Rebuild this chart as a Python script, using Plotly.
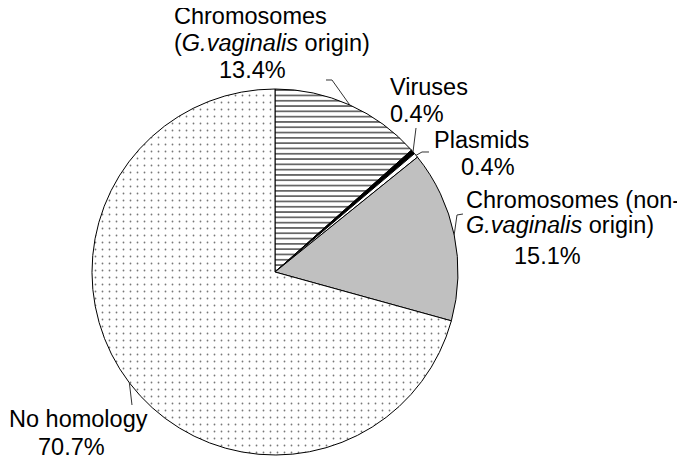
import math
import plotly.graph_objects as go

# ---- data ----
categories = ["Chromosomes (G.vaginalis origin)", "Viruses", "Plasmids",
              "Chromosomes (non-G.vaginalis origin)", "No homology"]
values = [13.4, 0.4, 0.4, 15.1, 70.7]
label_lines = [
    ["Chromosomes", "(<i>G.vaginalis</i> origin)", "13.4%"],
    ["Viruses", "0.4%"],
    ["Plasmids", "0.4%"],
    ["Chromosomes (non-", "<i>G.vaginalis</i> origin)", "15.1%"],
    ["No homology", "70.7%"],
]

# the page body adds an 8px offset; the figure is sized to fill the rest
OFF = 8
W, H = 685 - OFF, 461 - OFF
# pie geometry in screen pixels
DOM_X = (92, 458)
DOM_Y = (89, 455)  # top, bottom (pixels from top)
cx = (DOM_X[0] + DOM_X[1]) / 2
cy = (DOM_Y[0] + DOM_Y[1]) / 2
R = (DOM_X[1] - DOM_X[0]) / 2

def px(x):
    return (x - OFF) / W

def py(y):
    return (H - (y - OFF)) / H

fig = go.Figure(go.Pie(
    labels=categories,
    values=values,
    sort=False,
    direction="clockwise",
    rotation=0,
    textinfo="none",
    hoverinfo="label+percent",
    showlegend=False,
    domain=dict(x=[px(DOM_X[0]), px(DOM_X[1])], y=[py(DOM_Y[1]), py(DOM_Y[0])]),
    marker=dict(
        colors=["white", "black", "white", "#c0c0c0", "white"],
        line=dict(color="black", width=1),
        pattern=dict(
            shape=["-", "", "", "", "."],
            fgcolor=["black", "black", "black", "black", "#777777"],
            bgcolor=["white", "black", "white", "#c0c0c0", "white"],
            size=[5.3, 8, 8, 8, 7],
            solidity=[0.2, 0.3, 0.3, 0.3, 0.05],
            fillmode="replace",
        ),
    ),
))

# label text positions (left x, line centre y) in screen pixels
label_pos = [
    [(173, 16.5), (173, 43.5), (218, 69.5)],
    [(389, 86.5), (389, 114)],
    [(433, 140), (460, 167)],
    [(465, 200), (465, 225), (513, 256)],
    [(8, 418.5), (37, 446.5)],
]
# leader line end points (pixels), after the slice edge point
leader_ends = [
    [(332, 80), (326, 80)],
    [(416, 128)],
    [(422, 152), (429, 152)],
    [(457, 215), (463, 214)],
    [(132, 405)],
]

annotations = []
shapes = []
cum = 0.0
total = sum(values)
for i, v in enumerate(values):
    mid = (cum + v / 2) / total * 2 * math.pi
    cum += v
    ex = cx + R * math.sin(mid)
    ey = cy - R * math.cos(mid)
    pts = [(ex, ey)] + leader_ends[i]
    path = "M " + " L ".join(f"{px(x):.5f} {py(y):.5f}" for x, y in pts)
    shapes.append(dict(type="path", path=path, xref="paper", yref="paper",
                       line=dict(color="#333333", width=1)))
    for txt, (lx, ly) in zip(label_lines[i], label_pos[i]):
        annotations.append(dict(
            text=txt, x=px(lx), y=py(ly), xref="paper", yref="paper",
            xanchor="left", yanchor="middle", showarrow=False,
            borderpad=0,
            font=dict(family="Liberation Sans, Arial, sans-serif", size=23.5, color="black"),
        ))

fig.update_layout(
    width=W, height=H,
    margin=dict(l=0, r=0, t=0, b=0),
    paper_bgcolor="white",
    plot_bgcolor="white",
    annotations=annotations,
    shapes=shapes,
)

fig.write_html("out.html")
